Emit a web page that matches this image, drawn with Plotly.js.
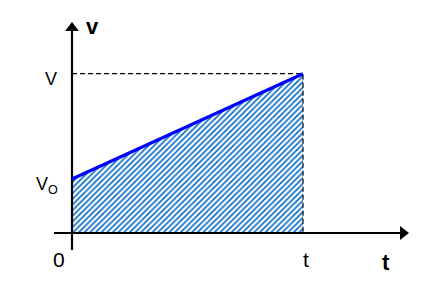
<!DOCTYPE html>
<html><head><meta charset="utf-8">
<script src="https://cdn.plot.ly/plotly-3.0.1.min.js"></script>
<style>html,body{margin:0;padding:0;background:#fff}#c{width:430px;height:288px}</style>
</head><body><div id="c"></div>
<script>
// Data (symbolic units)
const timeVals = [0, 1];          // 0 and t
const speedVals = [1, 2.95];      // v0 and v
const xTickText = ['0', 't'];
const yTickText = ['V<sub>O</sub>', 'V'];
const axisNames = ['t', 'v'];

const t = timeVals[1], v0 = speedVals[0], v = speedVals[1];
const FONT = 'Liberation Sans, Arial, sans-serif';

// axis extents (in data units)
const xAxisExt = [-18/231, 331/231];
const yAxisExt = [-17/54, 205/54];

const traces = [
  { // hatched area
    x: [0, 0, t, t, 0], y: [0, v0, v, 0, 0],
    mode: 'lines', line: {width: 0}, fill: 'toself',
    fillcolor: 'rgba(0,0,0,0)',
    fillpattern: {shape: '/', fgcolor: '#0A6CC8', bgcolor: '#ffffff', size: 4, solidity: 0.42},
    hoverinfo: 'skip', showlegend: false
  },
  { // dashed guides
    x: [0, t, t], y: [v, v, 0], mode: 'lines',
    line: {color: '#000', width: 1.2, dash: '5px,3px'}, showlegend: false
  },
  { // x axis
    x: xAxisExt, y: [0, 0], mode: 'lines', line: {color: '#000', width: 2.2}, showlegend: false
  },
  { // y axis
    x: [0, 0], y: yAxisExt, mode: 'lines', line: {color: '#000', width: 2.2}, showlegend: false
  },
  { // arrowheads
    x: [xAxisExt[1], 0], y: [0, yAxisExt[1]], mode: 'markers',
    marker: {symbol: ['triangle-right', 'triangle-up'], size: 12, color: '#000', line: {width: 0}},
    cliponaxis: false, showlegend: false
  },
  { // velocity line
    x: timeVals, y: speedVals, mode: 'lines',
    line: {color: '#0000FF', width: 3.2}, showlegend: false
  }
];

const xr = [-72/231, 358/231];
const yr = [-55/54, 233/54];

const ann = (x, y, text, size, xs, ys) => ({
  x, y, xref: 'x', yref: 'y', text, showarrow: false, xshift: xs, yshift: ys,
  font: {family: FONT, size: size, color: '#000'}
});

const layout = {
  width: 430, height: 288,
  margin: {l: 0, r: 0, t: 0, b: 0},
  paper_bgcolor: '#fff', plot_bgcolor: '#fff',
  xaxis: {range: xr, visible: false, fixedrange: true},
  yaxis: {range: yr, visible: false, fixedrange: true},
  annotations: [
    ann(timeVals[0], 0, xTickText[0], 21, -13, -26),
    ann(timeVals[1], 0, xTickText[1], 21, 3, -26),
    ann(0, speedVals[1], yTickText[1], 18, -21, -5),
    ann(0, speedVals[0], yTickText[0], 18, -25, -6),
    ann(xAxisExt[1], 0, '<b>' + axisNames[0] + '</b>', 22, -17, -29),
    ann(0, yAxisExt[1], '<b>' + axisNames[1] + '</b>', 22, 20, 2)
  ]
};

Plotly.newPlot('c', traces, layout, {staticPlot: true, displayModeBar: false});
</script></body></html>
